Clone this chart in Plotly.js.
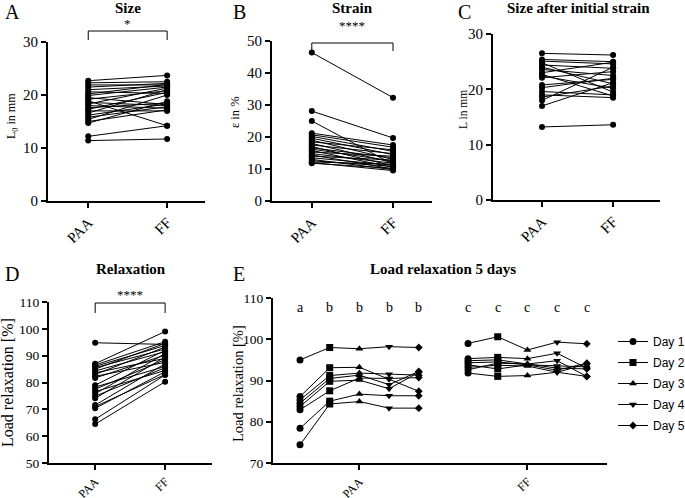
<!DOCTYPE html>
<html><head><meta charset="utf-8">
<script src="https://cdn.plot.ly/plotly-3.0.1.min.js"></script>
<style>html,body{margin:0;padding:0;background:#fff}#chart{width:685px;height:498px}</style>
</head><body><div id="chart"></div>
<script>
// ---------- data ----------
const groups = ['PAA', 'FF'];
const sizePAA = [22.7, 22.3, 21.9, 21.5, 21.0, 20.6, 20.2, 19.9, 19.5, 19.2, 18.9, 18.6, 18.3, 18.0, 17.6, 17.3, 17.0, 16.6, 16.2, 15.8, 15.4, 15.0, 14.7, 12.2, 11.4];
const sizeFF  = [23.7, 22.5, 21.9, 22.2, 21.7, 20.3, 22.0, 21.5, 18.2, 20.8, 14.2, 18.0, 21.3, 17.5, 18.5, 20.5, 17.0, 21.0, 18.3, 17.8, 20.0, 17.2, 18.8, 14.2, 11.7];
const strainPAA = [46.4, 28.1, 25.0, 21.2, 20.7, 20.2, 19.6, 19.0, 18.5, 18.0, 17.5, 17.0, 16.6, 16.2, 15.8, 15.3, 14.8, 14.4, 14.0, 13.5, 13.0, 12.6, 12.2, 12.0, 11.8];
const strainFF  = [32.3, 19.7, 11.5, 17.5, 16.8, 15.5, 14.5, 13.0, 16.0, 12.0, 14.8, 11.0, 13.5, 12.5, 10.5, 14.0, 11.8, 10.0, 12.8, 11.2, 9.8, 10.8, 11.5, 9.5, 10.2];
const lenPAA = [26.5, 25.4, 25.1, 24.8, 24.4, 24.0, 23.6, 23.0, 22.7, 22.4, 22.1, 20.8, 20.3, 19.6, 19.0, 18.6, 18.0, 17.0, 13.2];
const lenFF  = [26.2, 25.0, 24.6, 19.5, 23.8, 21.0, 22.5, 24.9, 18.8, 20.2, 23.2, 21.8, 22.0, 19.0, 18.5, 20.6, 24.0, 21.2, 13.6];
const relaxPAA = [94.8, 87.0, 86.5, 86.0, 85.5, 85.0, 84.3, 83.6, 83.0, 82.3, 81.7, 79.0, 78.3, 77.5, 76.6, 75.8, 74.9, 74.1, 71.6, 71.0, 70.4, 66.3, 64.5];
const relaxFF  = [94.2, 99.0, 95.2, 93.8, 92.5, 94.6, 91.5, 89.0, 93.2, 87.5, 90.2, 92.0, 86.0, 88.5, 84.5, 90.8, 85.5, 89.5, 87.0, 83.0, 84.0, 82.8, 80.3];
const days = ['Day 1', 'Day 2', 'Day 3', 'Day 4', 'Day 5'];
const daySymbols = ['circle', 'square', 'triangle-up', 'triangle-down', 'diamond'];
const fiveDayPAA = [
  [95.0, 98.0, 97.7, 98.2, 98.0],
  [86.1, 93.1, 93.2, 90.3, 87.4],
  [85.3, 91.2, 91.8, 91.5, 91.3],
  [84.5, 90.5, 91.3, 89.0, 92.2],
  [83.7, 89.8, 90.1, 88.0, 92.0],
  [82.9, 87.5, 90.6, 90.5, 90.7],
  [78.4, 85.0, 86.7, 86.3, 86.3],
  [74.4, 84.3, 84.9, 83.3, 83.3]
];
const fiveDayFF = [
  [99.0, 100.6, 97.4, 99.3, 98.9],
  [95.3, 95.6, 95.3, 96.6, 93.0],
  [94.8, 95.0, 94.0, 94.8, 91.0],
  [94.3, 94.5, 93.8, 93.5, 93.3],
  [93.8, 92.8, 93.8, 92.5, 94.2],
  [93.2, 93.7, 93.5, 92.0, 94.0],
  [92.6, 94.2, 94.0, 93.0, 92.8],
  [91.8, 91.0, 91.2, 92.0, 91.0]
];
const letterPAA = ['a', 'b', 'b', 'b', 'b'];
const letterFF  = ['c', 'c', 'c', 'c', 'c'];

// ---------- layout helpers ----------
const W = 685, H = 498;
const SERIF = 'Liberation Serif, serif';
const px = v => v / W;
const py = v => 1 - v / H;
const GROUP_GAP = 5.66;

function pairTrace(a, b, xa, ya) {
  const x = [], y = [];
  for (let i = 0; i < a.length; i++) { x.push(0, 1, null); y.push(a[i], b[i], null); }
  return { type: 'scatter', mode: 'lines+markers', x, y, xaxis: xa, yaxis: ya,
    connectgaps: false, showlegend: false, hoverinfo: 'skip',
    line: { color: 'black', width: 1 }, marker: { color: 'black', size: 6 } };
}
const traces = [
  pairTrace(sizePAA, sizeFF, 'x', 'y'),
  pairTrace(strainPAA, strainFF, 'x2', 'y2'),
  pairTrace(lenPAA, lenFF, 'x3', 'y3'),
  pairTrace(relaxPAA, relaxFF, 'x4', 'y4')
];
const eGroups = [fiveDayPAA, fiveDayFF];
eGroups.forEach((rows, g) => rows.forEach(r => traces.push({ type: 'scatter', mode: 'lines',
  xaxis: 'x5', yaxis: 'y5', x: r.map((_, d) => g * GROUP_GAP + d), y: r, showlegend: false,
  hoverinfo: 'skip', line: { color: 'black', width: 1 } })));
days.forEach((name, d) => {
  const x = [], y = [];
  eGroups.forEach((rows, g) => rows.forEach(r => { x.push(g * GROUP_GAP + d, null); y.push(r[d], null); }));
  traces.push({ type: 'scatter', mode: 'lines+markers', name, legendgroup: name, x, y,
    xaxis: 'x5', yaxis: 'y5', connectgaps: false, hoverinfo: 'skip',
    line: { color: 'black', width: 1 },
    marker: { color: 'black', symbol: daySymbols[d], size: d === 4 ? 6 : 7 } });
});

function xax(domPx, range, tickvals, anchor, fsize) {
  return { domain: [px(domPx[0]), px(domPx[1])], range, anchor, tickmode: 'array', tickvals,
    ticktext: groups, tickangle: -45, showline: true, linecolor: 'black', linewidth: 2,
    ticks: 'outside', ticklen: 5, tickwidth: 2, tickcolor: 'black', showgrid: false, zeroline: false,
    automargin: false, tickfont: { family: SERIF, size: fsize, color: 'black' } };
}
function yax(domPx, range, anchor, fsize) {
  return { domain: [py(domPx[1]), py(domPx[0])], range, dtick: 10, tick0: 0, anchor,
    showline: true, linecolor: 'black', linewidth: 2, ticks: 'outside', ticklen: 5, tickwidth: 2,
    tickcolor: 'black', showgrid: false, zeroline: false, automargin: false,
    tickfont: { family: SERIF, size: fsize, color: 'black' } };
}

const layout = {
  width: W, height: H, autosize: false, margin: { l: 0, r: 0, t: 0, b: 0, autoexpand: false },
  paper_bgcolor: 'white', plot_bgcolor: 'white', showlegend: true,
  xaxis:  xax([48, 205], [-0.51, 1.48], [0, 1], 'y', 15),
  yaxis:  yax([42, 201], [0, 30], 'x', 15),
  xaxis2: xax([272, 432], [-0.49, 1.48], [0, 1], 'y2', 15),
  yaxis2: yax([41, 201], [0, 50], 'x2', 15),
  xaxis3: xax([493, 660], [-0.69, 1.66], [0, 1], 'y3', 15),
  yaxis3: yax([34, 200], [0, 30], 'x3', 15),
  xaxis4: xax([49, 212], [-0.66, 1.67], [0, 1], 'y4', 12),
  yaxis4: yax([302, 463], [50, 110], 'x4', 13.5),
  xaxis5: xax([273, 607], [-0.91, 10.34], [2, GROUP_GAP + 2], 'y5', 12),
  yaxis5: yax([298, 463], [70, 110], 'x5', 13.5),
  legend: { x: px(613), y: py(327), xanchor: 'left', yanchor: 'top', bgcolor: 'rgba(0,0,0,0)',
    tracegroupgap: 2,
    font: { family: 'Liberation Sans, Arial, sans-serif', size: 12, color: 'black' } },
  shapes: [], annotations: []
};

// y-axis titles
const yTitles = [
  ['L<sub>0</sub> in mm', 12, 116, 12], ['ε in %', 235, 112, 12.5], ['L in mm', 463, 110, 11.5],
  ['Load relaxation [%]', 7, 383, 16], ['Load relaxation [%]', 238, 384, 14.5]
];
yTitles.forEach(([t, x, y, s]) => layout.annotations.push({ text: t, xref: 'paper', yref: 'paper',
  x: px(x), y: py(y), xanchor: 'center', yanchor: 'middle', textangle: -90, showarrow: false,
  font: { family: SERIF, size: s, color: 'black' } }));

const titles = [
  ['Size', 128, 8], ['Strain', 353, 8], ['Size after initial strain', 578, 8],
  ['Relaxation', 131, 269], ['Load relaxation 5 days', 443, 269]
];
titles.forEach(([t, x, y]) => layout.annotations.push({ text: '<b>' + t + '</b>', xref: 'paper', yref: 'paper',
  x: px(x), y: py(y), xanchor: 'center', yanchor: 'middle', showarrow: false,
  font: { family: SERIF, size: 15, color: 'black' } }));
const letters = [['A', 3, 12], ['B', 231, 12], ['C', 456, 12], ['D', 3, 274], ['E', 231, 274]];
letters.forEach(([t, x, y]) => layout.annotations.push({ text: t, xref: 'paper', yref: 'paper',
  x: px(x), y: py(y), xanchor: 'left', yanchor: 'middle', showarrow: false,
  font: { family: SERIF, size: 20, color: 'black' } }));

function bracket(ax, axKey, top, bottom, stars, starY) {
  const dom = layout[axKey].domain, range = layout[axKey].range;
  const f = v => dom[0] + (dom[1] - dom[0]) * (v - range[0]) / (range[1] - range[0]);
  const l = f(0), r = f(1);
  const base = { type: 'line', xref: 'paper', yref: 'paper', line: { color: 'black', width: 1 } };
  layout.shapes.push(Object.assign({}, base, { x0: l, x1: r, y0: py(top), y1: py(top) }));
  layout.shapes.push(Object.assign({}, base, { x0: l, x1: l, y0: py(top), y1: py(bottom) }));
  layout.shapes.push(Object.assign({}, base, { x0: r, x1: r, y0: py(top), y1: py(bottom) }));
  layout.annotations.push({ text: stars, xref: ax, yref: 'paper', x: 0.5, y: py(starY),
    xanchor: 'center', yanchor: 'middle', showarrow: false,
    font: { family: SERIF, size: 13, color: 'black' } });
}
bracket('x', 'xaxis', 31, 40, '*', 23);
bracket('x2', 'xaxis2', 43, 51, '****', 26);
bracket('x4', 'xaxis4', 303, 313, '****', 294);

[letterPAA, letterFF].forEach((arr, g) => arr.forEach((t, d) => layout.annotations.push({
  text: t, xref: 'x5', yref: 'paper', x: g * GROUP_GAP + d, y: py(307),
  xanchor: 'center', yanchor: 'middle', showarrow: false,
  font: { family: SERIF, size: 14, color: 'black' } })));

Plotly.newPlot('chart', traces, layout, { staticPlot: true, displayModeBar: false });
</script></body></html>
